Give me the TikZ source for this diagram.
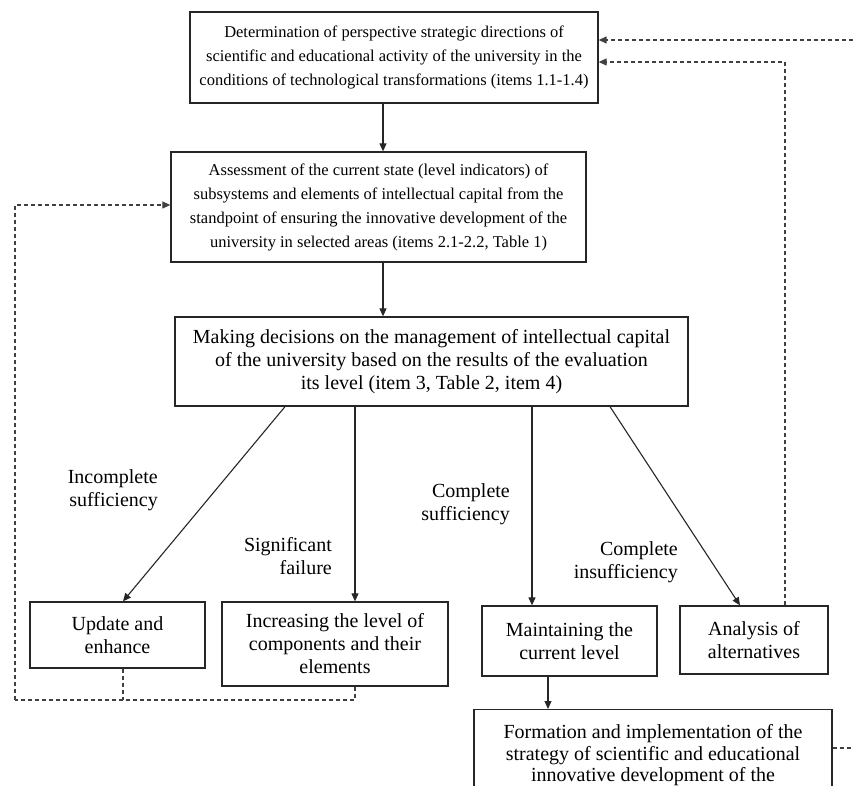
\documentclass[tikz,border=0pt]{standalone}
\usepackage{fontspec}
\setmainfont{Liberation Serif}
\newfontfamily\tnr{Liberation Serif}
\usetikzlibrary{arrows.meta,calc}
\begin{document}
\begin{tikzpicture}[x=1pt,y=-1pt,
  box/.style={draw=black!85,line width=1.3pt,align=center,inner sep=2pt,
    font=\tnr\fontsize{20}{23}\selectfont},
  bigbox/.style={box,font=\tnr\fontsize{16.5}{24}\selectfont},
  lbl/.style={align=right,anchor=east,inner sep=0pt,font=\tnr\fontsize{20}{22.5}\selectfont},
  arr/.style={draw=black!85,line width=1.1pt,-{Triangle[length=8pt,width=7pt]}},
  dsh/.style={draw=black!75,line width=1.1pt,dash pattern=on 4pt off 3pt},
  darr/.style={dsh,-{Triangle[length=8pt,width=7pt]}}]
\useasboundingbox (0,0) rectangle (854,785);
\clip (0,0) rectangle (854,785);
\node[bigbox,minimum width=408pt,minimum height=91pt] (b1) at (394,57.5)
 {Determination of perspective strategic directions of\\scientific and educational activity of the university in the\\conditions of technological transformations (items 1.1-1.4)};
\node[bigbox,minimum width=415pt,minimum height=110pt] (b2) at (378.5,207)
 {Assessment of the current state (level indicators) of\\subsystems and elements of intellectual capital from the\\standpoint of ensuring the innovative development of the\\university in selected areas (items 2.1-2.2, Table 1)};
\node[box,minimum width=513pt,minimum height=89pt] (b3) at (431.5,361.5)
 {Making decisions on the management of intellectual capital\\of the university based on the results of the evaluation\\its level (item 3, Table 2, item 4)};
\node[box,minimum width=175pt,minimum height=66pt] (b4) at (117.5,635)
 {Update and\\enhance};
\node[box,minimum width=226pt,minimum height=84pt] (b5) at (335,644)
 {Increasing the level of\\components and their\\elements};
\node[box,minimum width=175pt,minimum height=70pt] (b6) at (569.5,641)
 {Maintaining the\\current level};
\node[box,minimum width=148pt,minimum height=68pt] (b7) at (754,640)
 {Analysis of\\alternatives};
\node[box,minimum width=358pt,anchor=north,inner ysep=15pt,font=\tnr\fontsize{20}{21.5}\selectfont] (b8) at (653,709)
 {Formation and implementation of the\\strategy of scientific and educational\\innovative development of the\\ \strut\\ \strut};

\node[lbl] (l1) at (158,490) {Incomplete\\sufficiency};
\node[lbl] (l2) at (332,556) {Significant\\failure};
\node[lbl] (l3) at (510,504) {Complete\\sufficiency};
\node[lbl] (l4) at (678,562) {Complete\\insufficiency};

\draw[arr] ([xshift=-11pt]b1.south) -- ([xshift=-11pt]b1.south |- b2.north);
\draw[arr] ([xshift=4.5pt]b2.south) -- ([xshift=4.5pt]b2.south |- b3.north);
\draw[arr] ([xshift=-146.5pt]b3.south) -- ([xshift=5.5pt]b4.north);
\draw[arr] ([xshift=20pt]b5.north |- b3.south) -- ([xshift=20pt]b5.north);
\draw[arr] ([xshift=-37.5pt]b6.north |- b3.south) -- ([xshift=-37.5pt]b6.north);
\draw[arr] ([xshift=178.5pt]b3.south) -- ([xshift=-14pt]b7.north);
\draw[arr] ([xshift=-21.5pt]b6.south) -- ([xshift=-21.5pt]b6.south |- b8.north);

\coordinate (lc) at (15,700);
\coordinate (b2w) at ([yshift=2pt]b2.west);
\draw[dsh] ([xshift=5.5pt]b4.south) -- ([xshift=5.5pt]b4.south |- lc);
\draw[dsh] ([xshift=20pt]b5.south) -- ([xshift=20pt]b5.south |- lc) -- (lc);
\draw[darr] (lc) -- (lc |- b2w) -- (b2w);
\coordinate (rc) at (785,62);
\draw[darr] ([xshift=31pt]b7.north) -- ([xshift=31pt]b7.north |- rc) -- (rc -| b1.east);
\coordinate (tc) at (860,40);
\draw[darr] (tc) -- (tc -| b1.east);
\coordinate (fc) at (860,748);
\draw[dsh] (fc -| b8.east) -- (fc);
\end{tikzpicture}
\end{document}
